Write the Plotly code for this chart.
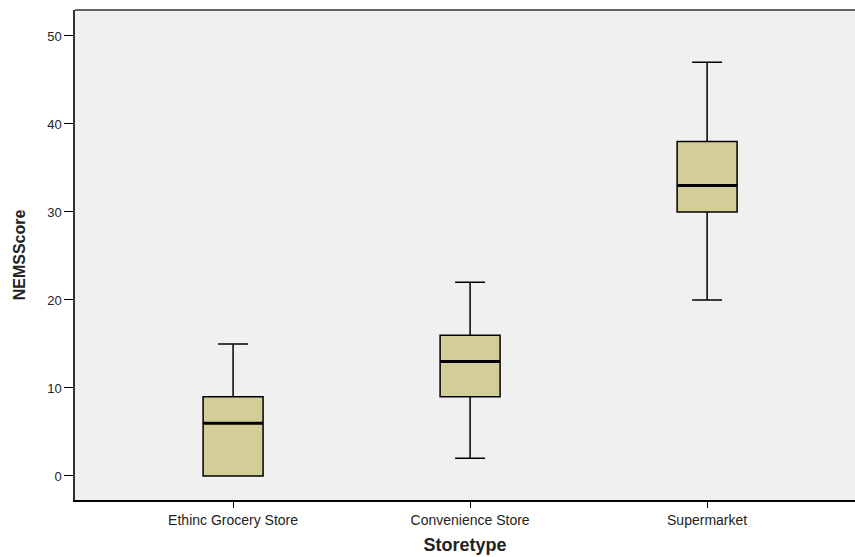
import plotly.graph_objects as go

categories = ["Ethinc Grocery Store", "Convenience Store", "Supermarket"]
lower_whisker = [0, 2, 20]
q1 = [0, 9, 30]
median = [6, 13, 33]
q3 = [9, 16, 38]
upper_whisker = [15, 22, 47]

xpos = list(range(len(categories)))
box_w = 0.253

fig = go.Figure()
fig.add_trace(go.Box(
    x=xpos, q1=q1, median=median, q3=q3,
    lowerfence=lower_whisker, upperfence=upper_whisker,
    width=box_w, whiskerwidth=0.5,
    fillcolor="#D3CE97", line=dict(color="#000000", width=1.5),
    boxpoints=False, hoverinfo="y", showlegend=False,
))

shapes = []
for i, m in zip(xpos, median):
    shapes.append(dict(type="line", xref="x", yref="y",
                       x0=i - box_w / 2, x1=i + box_w / 2, y0=m, y1=m,
                       line=dict(color="#000000", width=3)))
# top frame line
shapes.append(dict(type="line", xref="paper", yref="paper", x0=0, x1=1, y0=1, y1=1,
                   line=dict(color="#333333", width=1.5)))

fig.update_layout(
    width=855, height=557,
    margin=dict(l=75, r=0, t=10, b=57),
    paper_bgcolor="#FFFFFF", plot_bgcolor="#F0F0F0",
    font=dict(family="Arial, Liberation Sans, sans-serif", size=13, color="#222222"),
    shapes=shapes,
    xaxis=dict(
        range=[-0.667, 2.624], tickmode="array", tickvals=xpos, ticktext=categories,
        showgrid=False, zeroline=False, showline=True, linecolor="#000000", linewidth=1.5,
        ticks="outside", ticklen=6, tickcolor="#000000", tickwidth=1,
        tickfont=dict(size=14, color="#222222"),
        title=dict(text="<b>Storetype</b>", font=dict(size=18, color="#222222"), standoff=12),
    ),
    yaxis=dict(
        range=[-2.73, 52.95], tickmode="array", tickvals=[0, 10, 20, 30, 40, 50],
        showgrid=False, zeroline=False, showline=True, linecolor="#333333", linewidth=1.5,
        ticks="outside", ticklen=9, tickcolor="#000000", tickwidth=1.2,
        tickfont=dict(size=13, color="#222222"),
        title=dict(text="<b>NEMSScore</b>", font=dict(size=16, color="#222222"), standoff=18),
    ),
)

fig.write_html(
    "out.html",
    config={"displayModeBar": False},
    post_script="document.body.style.margin='0';document.body.style.overflow='hidden';",
)
